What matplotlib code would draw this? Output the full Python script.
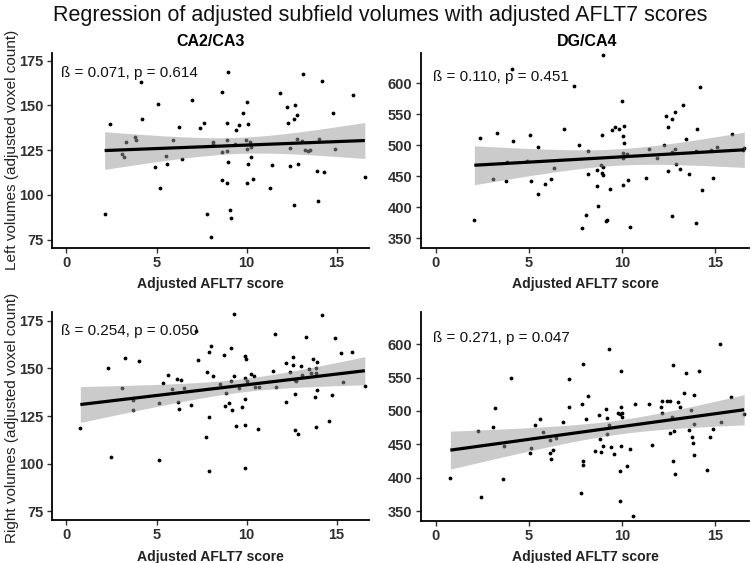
import numpy as np
import matplotlib
matplotlib.use("Agg")
import matplotlib.pyplot as plt

plt.rcParams['font.family'] = ['Liberation Sans', 'DejaVu Sans']

# ---------------- data ----------------
# Top-left: CA2/CA3, left volumes
ca_left_x = [2.12, 2.42, 3.11, 3.20, 3.30, 3.78, 3.88, 4.12, 4.19, 4.93, 5.07, 5.19, 5.54, 5.56,
             5.94, 6.27, 6.42, 6.95, 7.43, 7.63, 7.80, 8.02, 8.11, 8.13, 8.61, 8.61, 8.65, 8.89,
             8.89, 8.89, 8.89, 8.96, 8.98, 9.07, 9.15, 9.35, 9.43, 9.59, 9.80, 9.98, 10.02, 10.02,
             10.02, 10.06, 10.09, 10.17, 10.22, 10.26, 10.37, 11.28, 11.44, 11.87, 12.22, 12.30,
             12.43, 12.44, 12.65, 12.65, 12.67, 12.81, 12.81, 12.87, 13.09, 13.15, 13.26, 13.41,
             13.52, 13.94, 13.96, 14.04, 14.20, 14.28, 14.78, 14.91, 15.93, 16.57]
ca_left_y = [89.2, 139.4, 122.8, 120.9, 129.3, 132.1, 130.6, 163.2, 142.4, 115.3, 150.9, 103.7, 121.5, 117.4,
             130.4, 137.9, 120.0, 153.0, 137.3, 140.3, 89.2, 76.5, 129.7, 128.4, 157.6, 123.7, 108.4, 140.1,
             130.4, 124.8, 106.9, 168.7, 118.5, 91.6, 86.9, 128.2, 136.2, 139.0, 145.5, 130.4, 151.7, 125.9,
             106.9, 139.6, 117.0, 129.3, 126.5, 121.1, 109.0, 104.1, 116.8, 156.9, 148.9, 140.3,
             126.1, 116.2, 142.2, 94.2, 150.2, 144.6, 131.5, 117.2, 130.0, 167.5, 125.0, 124.6,
             125.2, 113.4, 96.5, 131.2, 163.8, 112.7, 145.9, 125.4, 155.8, 109.9]

# Top-right: DG/CA4, left volumes
dg_left_x = [2.06, 2.37, 3.26, 3.08, 3.74, 3.83, 4.15, 4.09, 4.89, 5.04, 5.11, 5.48, 5.48, 5.87,
             6.19, 6.33, 6.85, 7.40, 7.68, 7.82, 8.05, 8.14, 8.16, 8.62, 8.62, 8.67, 8.88, 8.92,
             8.92, 8.94, 8.99, 8.99, 9.10, 9.17, 9.35, 9.43, 9.63, 9.81, 10.00, 10.02, 10.02, 10.04,
             10.05, 10.07, 10.11, 10.27, 10.30, 10.41, 11.29, 11.45, 11.88, 12.25, 12.32, 12.46,
             12.44, 12.65, 12.65, 12.67, 12.81, 12.81, 12.87, 13.08, 13.27, 13.43, 13.56, 13.95,
             14.02, 13.95, 14.19, 14.27, 14.78, 14.87, 15.08, 15.89, 16.48, 16.55]
dg_left_y = [379.0, 512.4, 519.9, 446.2, 442.5, 473.1, 507.0, 623.1, 474.2, 516.7, 442.5, 496.8, 421.0, 438.2,
             446.2, 464.0, 526.3, 596.2, 500.0, 367.2, 388.2, 454.3, 490.3, 460.2, 433.9, 401.6, 467.7, 517.2,
             454.8, 452.2, 465.1, 646.2, 377.9, 379.0, 429.6, 524.7, 529.0, 525.8, 572.0, 515.6, 436.6, 488.2,
             479.0, 531.7, 503.2, 486.0, 444.1, 367.7, 446.8, 494.6, 480.1, 501.1, 547.3, 530.1,
             458.6, 543.0, 489.8, 386.6, 553.8, 494.1, 469.9, 461.3, 565.1, 510.2, 454.3, 375.3,
             526.9, 490.3, 594.1, 428.5, 492.5, 447.8, 496.8, 518.3, 492.5, 496.2]

# Bottom-left: CA2/CA3, right volumes
ca_right_x = [0.77, 2.30, 2.45, 3.07, 3.24, 3.67, 3.71, 4.04, 5.13, 5.15, 5.37, 5.66, 5.84, 6.16,
              6.18, 6.27, 6.37, 6.54, 6.89, 7.30, 7.17, 7.74, 7.81, 7.89, 7.93, 7.94, 8.02, 8.15,
              8.54, 8.74, 8.80, 8.85, 9.00, 9.13, 9.15, 9.19, 9.28, 9.30, 9.39, 9.56, 9.76, 9.89,
              9.89, 9.91, 9.91, 9.93, 9.98, 10.00, 10.22, 10.41, 10.46, 10.61, 10.67, 11.46, 11.59,
              11.65, 12.17, 12.19, 12.43, 12.56, 12.59, 12.67, 12.70, 12.70, 12.76, 12.87, 13.00,
              13.07, 13.31, 13.46, 13.59, 13.70, 13.78, 13.83, 13.85, 13.85, 13.89, 13.94, 14.17,
              14.57, 14.72, 14.91, 15.24, 15.33, 15.87, 16.57]
ca_right_y = [118.9, 150.3, 103.7, 139.9, 155.2, 128.0, 133.4, 153.7, 131.8, 102.1, 142.5, 146.5, 139.0, 144.6,
              132.5, 128.5, 143.9, 139.7, 131.0, 154.2, 169.8, 114.0, 148.1, 158.6, 96.2, 124.5, 161.9, 145.8,
              142.0, 157.2, 130.4, 137.2, 131.6, 160.5, 143.4, 128.3, 178.3, 146.2, 119.9, 139.5, 129.5, 120.1,
              97.9, 133.7, 156.3, 144.8, 154.9, 143.5, 146.9, 146.2, 140.0, 118.2, 140.2, 148.6, 167.8,
              140.4, 153.0, 132.2, 148.3, 156.1, 151.6, 136.5, 144.1, 117.8, 143.2, 115.7, 151.2,
              146.5, 166.3, 149.5, 147.4, 154.7, 135.1, 150.2, 147.4, 119.4, 153.1, 138.5, 177.8,
              122.4, 136.0, 165.7, 157.9, 142.7, 158.7, 140.9]

# Bottom-right: DG/CA4, right volumes
dg_right_x = [0.77, 2.28, 2.42, 3.04, 3.19, 3.63, 3.61, 4.00, 5.04, 5.11, 5.32, 5.59, 5.77, 6.10,
              6.12, 6.19, 6.26, 6.42, 6.80, 7.12, 7.14, 7.77, 7.82, 7.89, 7.91, 7.91, 8.03, 8.16,
              8.55, 8.76, 8.79, 8.85, 8.99, 9.15, 9.17, 9.20, 9.27, 9.29, 9.38, 9.54, 9.77, 9.86,
              9.88, 9.89, 9.91, 9.91, 9.95, 9.96, 9.98, 10.25, 10.44, 10.60, 10.66, 11.45, 11.61,
              12.09, 12.13, 12.15, 12.38, 12.54, 12.57, 12.66, 12.70, 12.71, 12.77, 12.85, 13.01,
              13.07, 13.30, 13.44, 13.58, 13.69, 13.74, 13.81, 13.83, 13.83, 13.87, 14.11, 14.56,
              14.70, 14.89, 15.23, 15.32, 15.85, 16.54]
dg_right_y = [400.2, 469.9, 371.4, 475.9, 503.7, 447.5, 397.8, 549.0, 437.6, 445.0, 478.9, 487.3, 468.4, 456.0,
              437.1, 428.6, 441.5, 459.5, 482.8, 505.2, 547.5, 376.9, 509.7, 570.4, 424.6, 418.7, 488.3, 523.1,
              440.0, 493.3, 458.0, 438.6, 447.0, 503.2, 489.8, 464.9, 593.3, 478.9, 445.5, 435.6, 497.3, 494.8,
              364.9, 410.7, 560.4, 447.5, 505.2, 491.3, 497.3, 417.7, 443.0, 343.0, 509.7, 510.2, 449.0,
              505.2, 514.2, 496.8, 514.2, 514.2, 467.4, 490.3, 568.4, 425.1, 469.4, 405.2, 513.7,
              505.7, 527.1, 557.5, 471.4, 500.7, 461.4, 452.5, 524.6, 434.6, 480.8, 559.5, 411.2,
              461.0, 473.4, 600.2, 483.8, 521.1, 494.8]

annotations = ["ß = 0.071, p = 0.614", "ß = 0.110, p = 0.451",
               "ß = 0.254, p = 0.050", "ß = 0.271, p = 0.047"]
col_titles = ["CA2/CA3", "DG/CA4"]
row_labels = ["Left volumes (adjusted voxel count)", "Right volumes (adjusted voxel count)"]
x_label = "Adjusted AFLT7 score"
main_title = "Regression of adjusted subfield volumes with adjusted AFLT7 scores"
x_ticks = [0, 5, 10, 15]
ca_yticks = [75, 100, 125, 150, 175]
dg_yticks = [350, 400, 450, 500, 550, 600]

# ---------------- figure ----------------
W, H = 751, 563
fig = plt.figure(figsize=(W / 100, H / 100), dpi=100)


def px_axes(l, t, r, b):
    return fig.add_axes([l / W, 1 - b / H, (r - l) / W, (b - t) / H])


panels = [
    (px_axes(51.7, 53, 369, 248), ca_left_x, ca_left_y, ca_yticks, (70.3, 179.3), annotations[0], (0.03, 0.90)),
    (px_axes(420.7, 53.3, 749, 248.3), dg_left_x, dg_left_y, dg_yticks, (333.9, 648.4), annotations[1], (0.038, 0.88)),
    (px_axes(51.7, 311.7, 369, 520), ca_right_x, ca_right_y, ca_yticks, (70.5, 179.7), annotations[2], (0.03, 0.909)),
    (px_axes(420.7, 311.7, 749, 520.7), dg_right_x, dg_right_y, dg_yticks, (335.5, 648.8), annotations[3], (0.038, 0.873)),
]

T95 = 1.99  # t quantile for ~80 df

for ax, xs, ys, yt, ylim, ann, apos in panels:
    x = np.asarray(xs)
    y = np.asarray(ys)
    ax.scatter(x, y, s=7.5, color='black', linewidths=0, zorder=2)
    # linear fit with 95% confidence band
    b, a = np.polyfit(x, y, 1)
    n = len(x)
    resid = y - (a + b * x)
    s = np.sqrt(np.sum(resid ** 2) / (n - 2))
    sxx = np.sum((x - x.mean()) ** 2)
    gx = np.linspace(x.min(), x.max(), 100)
    gy = a + b * gx
    se = s * np.sqrt(1 / n + (gx - x.mean()) ** 2 / sxx)
    ax.fill_between(gx, gy - T95 * se, gy + T95 * se, color='#999999', alpha=0.5, linewidth=0, zorder=3)
    ax.plot(gx, gy, color='black', lw=2.3, zorder=4, solid_capstyle='butt')

    ax.set_xlim(-0.82, 16.8)
    ax.set_ylim(*ylim)
    ax.set_xticks(x_ticks)
    ax.set_yticks(yt)
    for sp in ['top', 'right']:
        ax.spines[sp].set_visible(False)
    for sp in ['left', 'bottom']:
        ax.spines[sp].set_linewidth(1.3)
        ax.spines[sp].set_color('black')
    ax.tick_params(length=3.4, width=1, color='#333333', labelsize=10.5, labelcolor='#303030', pad=2.5)
    for lab in ax.get_xticklabels() + ax.get_yticklabels():
        lab.set_fontweight('bold')
    ax.text(apos[0], apos[1], ann, transform=ax.transAxes, ha='left', va='center', fontsize=11.0,
            color='#111111', zorder=5)
    ax.set_facecolor('white')

fig.text(0.506, 0.972, main_title, ha='center', va='center', fontsize=15.5, color='#111111')
fig.text(211 / W, 1 - 41 / H, col_titles[0], ha='center', va='center', fontsize=11.5, fontweight='bold')
fig.text(587 / W, 1 - 41 / H, col_titles[1], ha='center', va='center', fontsize=11.5, fontweight='bold')
fig.text(12 / W, 1 - 150 / H, row_labels[0], rotation=90, ha='center', va='center', fontsize=11, color='#222222')
fig.text(12 / W, 1 - 418 / H, row_labels[1], rotation=90, ha='center', va='center', fontsize=11, color='#222222')
for cx in (210, 585.5):
    fig.text(cx / W, 1 - 287.7 / H, x_label, ha='center', va='baseline', fontsize=10.1, fontweight='bold', color='#222222')
    fig.text(cx / W, 1 - 561 / H, x_label, ha='center', va='baseline', fontsize=10.1, fontweight='bold', color='#222222')

fig.savefig('out.png', dpi=100, facecolor='white')
